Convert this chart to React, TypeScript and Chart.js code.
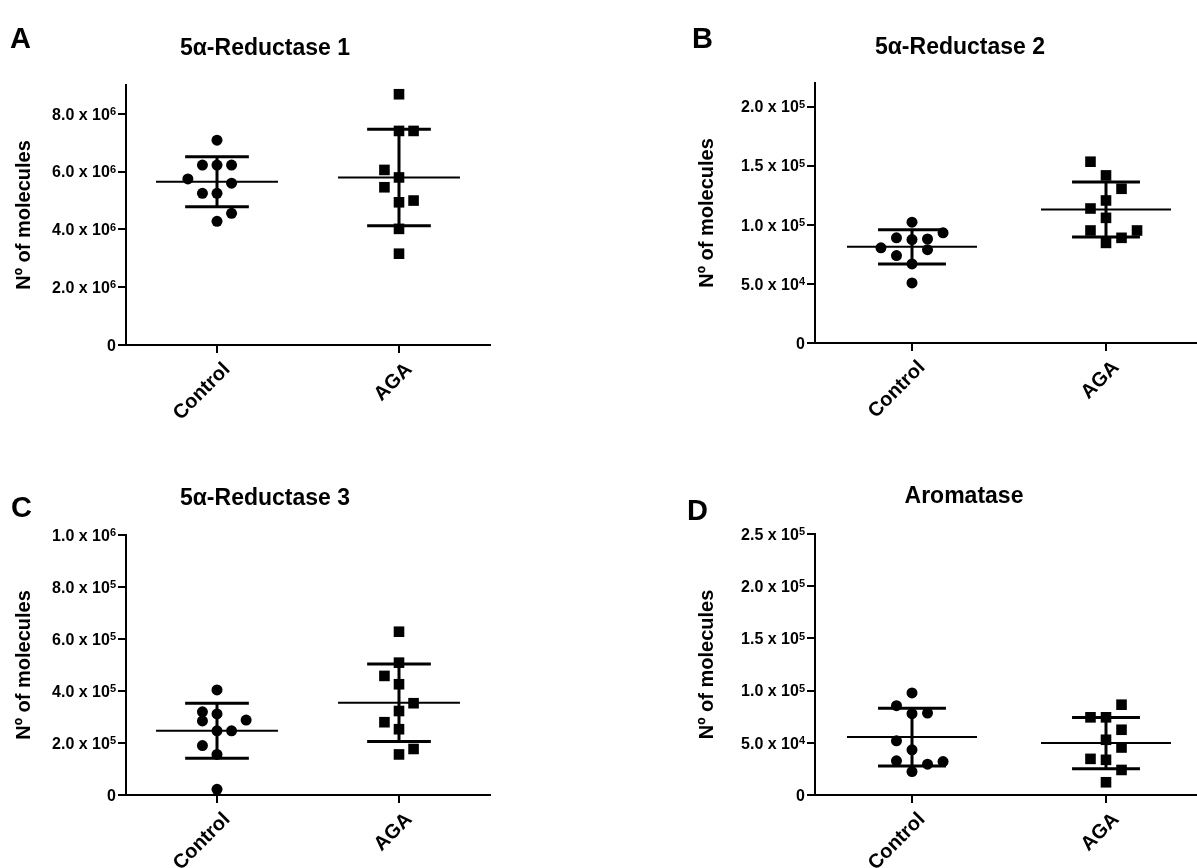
import React, { useEffect, useRef } from "react";
import { Chart, registerables } from "chart.js";

Chart.register(...registerables);

const FONT = "'Liberation Sans', Arial, Helvetica, sans-serif";
const groups = ["Control", "AGA"];
const yAxisTitle = "Nº of molecules";

// ---------- Panel A: 5α-Reductase 1 ----------
const aTitle = "5α-Reductase 1";
const aControl = [7.09e6, 6.23e6, 6.23e6, 6.23e6, 5.75e6, 5.6e6, 5.25e6, 5.25e6, 4.56e6, 4.28e6];
const aControlCols = [0, -1, 0, 1, -2, 1, -1, 0, 1, 0];
const aAga = [8.68e6, 7.41e6, 7.41e6, 6.06e6, 5.8e6, 5.46e6, 4.94e6, 5.0e6, 4.02e6, 3.16e6];
const aAgaCols = [0, 0, 1, -1, 0, -1, 0, 1, 0, 0];
const aMean = [5.65e6, 5.8e6];
const aSd = [0.865e6, 1.67e6];
const aMax = 9e6;
const aTicks = [0, 2e6, 4e6, 6e6, 8e6];
const aTickMantissa = ["0", "2.0 x 10", "4.0 x 10", "6.0 x 10", "8.0 x 10"];
const aTickExponent = ["", "6", "6", "6", "6"];

// ---------- Panel B: 5α-Reductase 2 ----------
const bTitle = "5α-Reductase 2";
const bControl = [1.022e5, 9.32e4, 8.9e4, 8.75e4, 8.8e4, 8.05e4, 7.9e4, 7.4e4, 6.69e4, 5.08e4];
const bControlCols = [0, 2, -1, 0, 1, -2, 1, -1, 0, 0];
const bAga = [1.534e5, 1.418e5, 1.305e5, 1.206e5, 1.138e5, 1.059e5, 9.52e4, 9.52e4, 8.9e4, 8.47e4];
const bAgaCols = [-1, 0, 1, 0, -1, 0, -1, 2, 1, 0];
const bMean = [8.14e4, 1.13e5];
const bSd = [1.45e4, 2.33e4];
const bMax = 2.2e5;
const bTicks = [0, 5e4, 1e5, 1.5e5, 2e5];
const bTickMantissa = ["0", "5.0 x 10", "1.0 x 10", "1.5 x 10", "2.0 x 10"];
const bTickExponent = ["", "4", "5", "5", "5"];

// ---------- Panel C: 5α-Reductase 3 ----------
const cTitle = "5α-Reductase 3";
const cControl = [4.04e5, 3.2e5, 3.12e5, 2.85e5, 2.88e5, 2.47e5, 2.47e5, 1.9e5, 1.56e5, 2.2e4];
const cControlCols = [0, -1, 0, -1, 2, 0, 1, -1, 0, 0];
const cAga = [6.28e5, 5.09e5, 4.58e5, 4.26e5, 3.53e5, 3.23e5, 2.8e5, 2.53e5, 1.77e5, 1.56e5];
const cAgaCols = [0, 0, -1, 0, 1, 0, -1, 0, 1, 0];
const cMean = [2.47e5, 3.55e5];
const cSd = [1.06e5, 1.49e5];
const cMax = 1e6;
const cTicks = [0, 2e5, 4e5, 6e5, 8e5, 1e6];
const cTickMantissa = ["0", "2.0 x 10", "4.0 x 10", "6.0 x 10", "8.0 x 10", "1.0 x 10"];
const cTickExponent = ["", "5", "5", "5", "5", "6"];

// ---------- Panel D: Aromatase ----------
const dTitle = "Aromatase";
const dControl = [9.78e4, 8.56e4, 7.79e4, 7.85e4, 5.19e4, 4.33e4, 3.27e4, 2.95e4, 3.2e4, 2.24e4];
const dControlCols = [0, -1, 0, 1, -1, 0, -1, 1, 2, 0];
const dAga = [8.65e4, 7.44e4, 7.44e4, 6.25e4, 5.29e4, 4.55e4, 3.46e4, 3.37e4, 2.4e4, 1.22e4];
const dAgaCols = [1, -1, 0, 1, 0, 1, -1, 0, 1, 0];
const dMean = [5.55e4, 4.97e4];
const dSd = [2.77e4, 2.45e4];
const dMax = 2.5e5;
const dTicks = [0, 5e4, 1e5, 1.5e5, 2e5, 2.5e5];
const dTickMantissa = ["0", "5.0 x 10", "1.0 x 10", "1.5 x 10", "2.0 x 10", "2.5 x 10"];
const dTickExponent = ["", "4", "5", "5", "5", "5"];

const COL_STEP = 0.08;
const MEAN_HALF = 0.335;
const CAP_HALF = 0.175;
const TICK_FONT = 16;
const SUP_FONT = 11;

const meanSdPlugin = {
  id: "meanSd",
  afterDatasetsDraw(chart: any, _args: any, opts: any) {
    const { ctx } = chart;
    const xs = chart.scales.x;
    const ys = chart.scales.y;
    const means: number[] = opts.means || [];
    const sds: number[] = opts.sds || [];
    ctx.save();
    ctx.strokeStyle = "#000";
    ctx.lineCap = "butt";
    means.forEach((m: number, i: number) => {
      const cx = xs.getPixelForValue(i);
      const ym = ys.getPixelForValue(m);
      const yu = ys.getPixelForValue(m + sds[i]);
      const yl = ys.getPixelForValue(m - sds[i]);
      ctx.lineWidth = 2;
      ctx.beginPath();
      ctx.moveTo(xs.getPixelForValue(i - MEAN_HALF), ym);
      ctx.lineTo(xs.getPixelForValue(i + MEAN_HALF), ym);
      ctx.stroke();
      ctx.lineWidth = 3;
      ctx.beginPath();
      ctx.moveTo(cx, yu);
      ctx.lineTo(cx, yl);
      ctx.moveTo(xs.getPixelForValue(i - CAP_HALF), yu);
      ctx.lineTo(xs.getPixelForValue(i + CAP_HALF), yu);
      ctx.moveTo(xs.getPixelForValue(i - CAP_HALF), yl);
      ctx.lineTo(xs.getPixelForValue(i + CAP_HALF), yl);
      ctx.stroke();
    });
    ctx.restore();
  },
};

// y tick labels with a raised exponent, placed through the y scale
const supTickPlugin = {
  id: "supTicks",
  afterDraw(chart: any, _args: any, opts: any) {
    const { ctx } = chart;
    const ys = chart.scales.y;
    const mant: string[] = opts.mantissa || [];
    const exp: string[] = opts.exponent || [];
    const right = ys.right - 8 - 2;
    ctx.save();
    ctx.fillStyle = "#000";
    ctx.textBaseline = "alphabetic";
    ys.ticks.forEach((t: any, i: number) => {
      const y = ys.getPixelForValue(t.value);
      const base = y + 0.358 * TICK_FONT;
      ctx.font = `bold ${SUP_FONT}px ${FONT}`;
      const ew = exp[i] ? ctx.measureText(exp[i]).width : 0;
      if (exp[i]) {
        ctx.textAlign = "right";
        ctx.fillText(exp[i], right, base - 4.5);
      }
      ctx.font = `bold ${TICK_FONT}px ${FONT}`;
      ctx.textAlign = "right";
      ctx.fillText(mant[i] ?? "", right - ew, base);
    });
    ctx.restore();
  },
};

type PanelProps = {
  letter: string;
  title: string;
  control: number[];
  controlCols: number[];
  aga: number[];
  agaCols: number[];
  means: number[];
  sds: number[];
  yMax: number;
  ticks: number[];
  mantissa: string[];
  exponent: string[];
  left: number;
  top: number;
  width: number;
  height: number;
  area: { l: number; t: number; r: number; b: number };
  yTitleX: number;
  titleX: number;
  titleY: number;
  letterX: number;
  letterY: number;
};

const LETTER_FONT = 29;
const TITLE_FONT = 23;

function Panel(p: PanelProps) {
  const ref = useRef<HTMLCanvasElement | null>(null);
  useEffect(() => {
    if (!ref.current) return;
    const lpad = p.yTitleX - 12;
    const chart = new Chart(ref.current, {
      type: "scatter",
      data: {
        datasets: [
          {
            data: p.control.map((v, i) => ({ x: 0 + p.controlCols[i] * COL_STEP, y: v })),
            pointStyle: "circle",
            pointRadius: 5.5,
            backgroundColor: "#000",
            borderWidth: 0,
          },
          {
            data: p.aga.map((v, i) => ({ x: 1 + p.agaCols[i] * COL_STEP, y: v })),
            pointStyle: "rect",
            pointRadius: 7.5,
            backgroundColor: "#000",
            borderWidth: 0,
          },
        ],
      },
      options: {
        animation: false,
        responsive: false,
        maintainAspectRatio: false,
        layout: {
          padding: { left: lpad, top: p.area.t, right: p.width - p.area.r, bottom: 0 },
        },
        plugins: {
          legend: { display: false },
          tooltip: { enabled: false },
          title: { display: false },
          meanSd: { means: p.means, sds: p.sds },
          supTicks: { mantissa: p.mantissa, exponent: p.exponent },
        } as any,
        scales: {
          x: {
            type: "linear",
            min: -0.5,
            max: 1.5,
            afterBuildTicks: (s: any) => {
              s.ticks = groups.map((_, i) => ({ value: i }));
            },
            afterFit: (s: any) => {
              s.height = p.height - p.area.b;
            },
            ticks: {
              autoSkip: false,
              minRotation: 45,
              maxRotation: 45,
              padding: 5,
              labelOffset: 10,
              color: "#000",
              font: { family: FONT, size: 20, weight: "bold" },
              callback: (v: any) => groups[Math.round(Number(v))] ?? "",
            },
            grid: {
              display: true,
              drawOnChartArea: false,
              drawTicks: true,
              tickLength: 8,
              color: "#000",
              lineWidth: 2,
            },
            border: { display: true, color: "#000", width: 2 },
          },
          y: {
            type: "linear",
            min: 0,
            max: p.yMax,
            afterBuildTicks: (s: any) => {
              s.ticks = p.ticks.map((v) => ({ value: v }));
            },
            afterFit: (s: any) => {
              s.width = p.area.l - lpad;
            },
            ticks: {
              display: false,
            },
            grid: {
              display: true,
              drawOnChartArea: false,
              drawTicks: true,
              tickLength: 8,
              color: "#000",
              lineWidth: 2,
            },
            border: { display: true, color: "#000", width: 2 },
            title: {
              display: true,
              text: yAxisTitle,
              color: "#000",
              padding: 0,
              font: { family: FONT, size: 20, weight: "bold", lineHeight: 1.2 },
            },
          },
        },
      } as any,
      plugins: [meanSdPlugin, supTickPlugin],
    });
    return () => chart.destroy();
  }, []);

  return (
    <div style={{ position: "absolute", left: p.left, top: p.top, width: p.width, height: p.height }}>
      <canvas ref={ref} width={p.width} height={p.height} style={{ width: p.width, height: p.height, display: "block" }} />
      <div
        style={{
          position: "absolute",
          left: p.letterX,
          top: p.letterY - 0.4885 * LETTER_FONT,
          fontFamily: FONT,
          fontWeight: "bold",
          fontSize: LETTER_FONT,
          lineHeight: `${LETTER_FONT}px`,
          color: "#000",
          whiteSpace: "nowrap",
        }}
      >
        {p.letter}
      </div>
      <div
        style={{
          position: "absolute",
          left: p.titleX - 200,
          width: 400,
          top: p.titleY - 0.4885 * TITLE_FONT,
          textAlign: "center",
          fontFamily: FONT,
          fontWeight: "bold",
          fontSize: TITLE_FONT,
          lineHeight: `${TITLE_FONT}px`,
          color: "#000",
          whiteSpace: "nowrap",
        }}
      >
        {p.title}
      </div>
    </div>
  );
}

export default function App() {
  return (
    <div
      style={{
        position: "absolute",
        left: 0,
        top: 0,
        width: 1197,
        height: 868,
        overflow: "hidden",
        background: "#fff",
      }}
    >
      <Panel
        letter="A"
        title={aTitle}
        control={aControl}
        controlCols={aControlCols}
        aga={aAga}
        agaCols={aAgaCols}
        means={aMean}
        sds={aSd}
        yMax={aMax}
        ticks={aTicks}
        mantissa={aTickMantissa}
        exponent={aTickExponent}
        left={0}
        top={0}
        width={560}
        height={420}
        area={{ l: 126, t: 85, r: 490, b: 345 }}
        yTitleX={24.5}
        titleX={265}
        titleY={47}
        letterX={10}
        letterY={38}
      />
      <Panel
        letter="B"
        title={bTitle}
        control={bControl}
        controlCols={bControlCols}
        aga={bAga}
        agaCols={bAgaCols}
        means={bMean}
        sds={bSd}
        yMax={bMax}
        ticks={bTicks}
        mantissa={bTickMantissa}
        exponent={bTickExponent}
        left={600}
        top={0}
        width={620}
        height={420}
        area={{ l: 215, t: 83, r: 603, b: 343 }}
        yTitleX={107.5}
        titleX={360}
        titleY={46}
        letterX={92}
        letterY={38}
      />
      <Panel
        letter="C"
        title={cTitle}
        control={cControl}
        controlCols={cControlCols}
        aga={cAga}
        agaCols={cAgaCols}
        means={cMean}
        sds={cSd}
        yMax={cMax}
        ticks={cTicks}
        mantissa={cTickMantissa}
        exponent={cTickExponent}
        left={0}
        top={420}
        width={560}
        height={448}
        area={{ l: 126, t: 115, r: 490, b: 375 }}
        yTitleX={24.5}
        titleX={265}
        titleY={77.5}
        letterX={11}
        letterY={87}
      />
      <Panel
        letter="D"
        title={dTitle}
        control={dControl}
        controlCols={dControlCols}
        aga={dAga}
        agaCols={dAgaCols}
        means={dMean}
        sds={dSd}
        yMax={dMax}
        ticks={dTicks}
        mantissa={dTickMantissa}
        exponent={dTickExponent}
        left={600}
        top={420}
        width={620}
        height={448}
        area={{ l: 215, t: 114, r: 603, b: 375 }}
        yTitleX={107.5}
        titleX={364}
        titleY={75.5}
        letterX={87}
        letterY={90}
      />
    </div>
  );
}
